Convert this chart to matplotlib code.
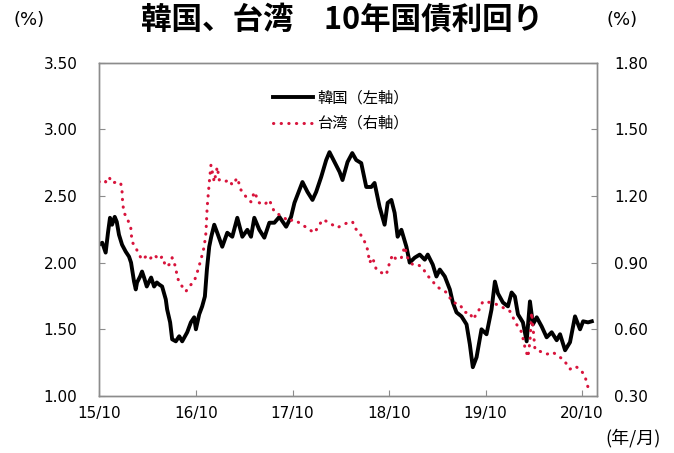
import matplotlib
matplotlib.use('Agg')
import matplotlib.pyplot as plt

# time in decimal years, values in %
korea_t = [2015.745, 2015.779, 2015.814, 2015.838, 2015.859, 2015.880, 2015.908, 2015.929,
           2015.952, 2015.984, 2016.022, 2016.056, 2016.077, 2016.108, 2016.126, 2016.139,
           2016.171, 2016.191, 2016.212, 2016.240, 2016.264, 2016.285, 2016.316, 2016.344,
           2016.368, 2016.399, 2016.437, 2016.451, 2016.482, 2016.503, 2016.541, 2016.576,
           2016.607, 2016.659, 2016.697, 2016.731, 2016.749, 2016.783, 2016.814, 2016.842,
           2016.863, 2016.887, 2016.908, 2016.939, 2016.970, 2017.022, 2017.074, 2017.126,
           2017.178, 2017.230, 2017.282, 2017.320, 2017.354, 2017.406, 2017.458, 2017.510,
           2017.562, 2017.614, 2017.684, 2017.735, 2017.770, 2017.822, 2017.853, 2017.905,
           2017.957, 2017.995, 2018.047, 2018.099, 2018.133, 2018.185, 2018.238, 2018.268,
           2018.320, 2018.369, 2018.410, 2018.462, 2018.514, 2018.566, 2018.600, 2018.652,
           2018.704, 2018.736, 2018.774, 2018.808, 2018.839, 2018.878, 2018.930, 2018.964,
           2019.016, 2019.068, 2019.120, 2019.151, 2019.203, 2019.241, 2019.276, 2019.328,
           2019.380, 2019.411, 2019.449, 2019.501, 2019.553, 2019.587, 2019.618, 2019.657,
           2019.708, 2019.760, 2019.812, 2019.847, 2019.878, 2019.930, 2019.982, 2020.020,
           2020.054, 2020.086, 2020.137, 2020.176, 2020.210, 2020.241, 2020.280, 2020.331,
           2020.383, 2020.435, 2020.487, 2020.522, 2020.574, 2020.625, 2020.677, 2020.729,
           2020.761, 2020.812, 2020.851]
korea_v = [2.134, 2.149, 2.075, 2.224, 2.336, 2.284, 2.343, 2.306,
           2.209, 2.134, 2.082, 2.045, 2.000, 1.858, 1.799, 1.851,
           1.896, 1.933, 1.888, 1.821, 1.858, 1.888, 1.821, 1.851,
           1.836, 1.821, 1.724, 1.649, 1.552, 1.425, 1.410, 1.448,
           1.410, 1.478, 1.552, 1.590, 1.500, 1.612, 1.672, 1.746,
           1.948, 2.119, 2.194, 2.284, 2.224, 2.119, 2.224, 2.194,
           2.336, 2.194, 2.246, 2.194, 2.336, 2.246, 2.187, 2.299,
           2.299, 2.343, 2.269, 2.343, 2.448, 2.545, 2.604, 2.530,
           2.470, 2.530, 2.642, 2.769, 2.828, 2.754, 2.679, 2.619,
           2.754, 2.821, 2.769, 2.746, 2.567, 2.567, 2.597, 2.418,
           2.284, 2.448, 2.470, 2.373, 2.194, 2.246, 2.119, 2.000,
           2.037, 2.060, 2.022, 2.060, 1.985, 1.896, 1.948, 1.896,
           1.799, 1.701, 1.627, 1.597, 1.537, 1.388, 1.216, 1.291,
           1.500, 1.463, 1.649, 1.858, 1.769, 1.701, 1.672, 1.776,
           1.746, 1.612, 1.552, 1.410, 1.709, 1.537, 1.590, 1.522,
           1.440, 1.478, 1.418, 1.463, 1.343, 1.403, 1.597, 1.500,
           1.560, 1.552, 1.560]

taiwan_t = [2015.745, 2015.776, 2015.814, 2015.849, 2015.880, 2015.932, 2015.970, 2015.984,
            2015.990, 2016.004, 2016.036, 2016.074, 2016.087, 2016.126, 2016.160, 2016.191,
            2016.230, 2016.264, 2016.316, 2016.368, 2016.399, 2016.437, 2016.472, 2016.503,
            2016.541, 2016.555, 2016.593, 2016.645, 2016.679, 2016.731, 2016.762, 2016.801,
            2016.835, 2016.853, 2016.866, 2016.887, 2016.905, 2016.939, 2016.970, 2016.991,
            2017.043, 2017.095, 2017.126, 2017.178, 2017.216, 2017.268, 2017.320, 2017.354,
            2017.406, 2017.458, 2017.510, 2017.562, 2017.614, 2017.666, 2017.718, 2017.749,
            2017.801, 2017.853, 2017.926, 2017.977, 2018.029, 2018.061, 2018.113, 2018.164,
            2018.216, 2018.268, 2018.320, 2018.372, 2018.393, 2018.445, 2018.497, 2018.528,
            2018.549, 2018.580, 2018.618, 2018.670, 2018.722, 2018.756, 2018.787, 2018.826,
            2018.878, 2018.912, 2018.943, 2018.995, 2019.047, 2019.099, 2019.137, 2019.189,
            2019.241, 2019.293, 2019.345, 2019.410, 2019.483, 2019.535, 2019.587, 2019.618,
            2019.670, 2019.722, 2019.795, 2019.864, 2019.930, 2020.002, 2020.072, 2020.124,
            2020.158, 2020.189, 2020.210, 2020.228, 2020.262, 2020.314, 2020.383, 2020.449,
            2020.501, 2020.553, 2020.591, 2020.625, 2020.677, 2020.729, 2020.781, 2020.799,
            2020.812]
taiwan_v = [1.263, 1.272, 1.263, 1.285, 1.258, 1.263, 1.258, 1.218,
            1.169, 1.124, 1.101, 1.057, 0.994, 0.967, 0.936, 0.913,
            0.927, 0.913, 0.936, 0.913, 0.927, 0.882, 0.891, 0.922,
            0.878, 0.833, 0.801, 0.770, 0.793, 0.815, 0.855, 0.913,
            0.972, 1.034, 1.151, 1.258, 1.339, 1.263, 1.330, 1.272,
            1.263, 1.272, 1.249, 1.281, 1.227, 1.196, 1.173, 1.218,
            1.169, 1.160, 1.182, 1.128, 1.115, 1.101, 1.084, 1.093,
            1.084, 1.070, 1.048, 1.034, 1.070, 1.093, 1.084, 1.070,
            1.057, 1.070, 1.079, 1.084, 1.057, 1.034, 0.994, 0.958,
            0.900, 0.922, 0.869, 0.855, 0.846, 0.900, 0.936, 0.913,
            0.922, 0.972, 0.922, 0.891, 0.891, 0.878, 0.846, 0.824,
            0.793, 0.779, 0.766, 0.721, 0.712, 0.676, 0.676, 0.645,
            0.676, 0.725, 0.721, 0.712, 0.698, 0.681, 0.622, 0.587,
            0.519, 0.475, 0.546, 0.676, 0.510, 0.501, 0.488, 0.497,
            0.479, 0.466, 0.443, 0.421, 0.434, 0.421, 0.390, 0.354,
            0.340]

x_ticks = [2015.75, 2016.75, 2017.75, 2018.75, 2019.75, 2020.75]
x_labels = ['15/10', '16/10', '17/10', '18/10', '19/10', '20/10']
left_ticks = [1.00, 1.50, 2.00, 2.50, 3.00, 3.50]
right_ticks = [0.30, 0.60, 0.90, 1.20, 1.50, 1.80]

jp = ['Noto Sans CJK JP', 'DejaVu Sans']
plt.rcParams['font.family'] = ['DejaVu Sans', 'Noto Sans CJK JP']
grey = '#8c8c8c'
red = '#d8143c'

fig = plt.figure(figsize=(6.74, 4.53), dpi=100)
ax = fig.add_axes([0.1476, 0.1258, 0.7382, 0.7362])
ax2 = ax.twinx()

l1, = ax.plot(korea_t, korea_v, color='black', lw=2.8, solid_joinstyle='round',
              label='韓国（左軸）')
l2, = ax2.plot(taiwan_t, taiwan_v, color=red, lw=2.2, linestyle=(0, (0.1, 2.4)),
               dash_capstyle='round', label='台湾（右軸）')

ax.set_xlim(2015.75, 2020.905)
ax.set_ylim(1.0, 3.5)
ax2.set_ylim(0.3, 1.8)

ax.set_xticks(x_ticks)
ax.set_xticklabels(x_labels)
ax.set_yticks(left_ticks)
ax.set_yticklabels(['%.2f' % v for v in left_ticks])
ax2.set_yticks(right_ticks)
ax2.set_yticklabels(['%.2f' % v for v in right_ticks])

for a in (ax, ax2):
    for s in a.spines.values():
        s.set_color(grey)
        s.set_linewidth(1.0)
ax.tick_params(axis='y', direction='in', length=4.5, color=grey, labelsize=11, pad=16)
ax.tick_params(axis='x', direction='in', length=4.5, color=grey, labelsize=11, pad=7)
ax2.tick_params(axis='y', direction='in', length=4.5, color=grey, labelsize=11, pad=12.5)

leg = ax2.legend(handles=[l1, l2], loc='upper left', bbox_to_anchor=(273 / 674, 1 - 89.5 / 453),
                 bbox_transform=fig.transFigure, frameon=False, borderpad=0, borderaxespad=0,
                 handlelength=2.6, handletextpad=0.28, labelspacing=0.55,
                 prop={'family': jp, 'size': 11})

fig.text(342 / 674, 1 - 20 / 453, '韓国、台湾　10年国債利回り', ha='center', va='center',
         fontsize=22, fontweight='bold', family=jp)
fig.text(29 / 674, 1 - 20 / 453, '(%)', ha='center', va='center', fontsize=13)
fig.text(622 / 674, 1 - 20 / 453, '(%)', ha='center', va='center', fontsize=13)
fig.text(661 / 674, 1 - 438 / 453, '(年/月)', ha='right', va='center', fontsize=13, family=jp)

fig.savefig('out.png', dpi=100)
